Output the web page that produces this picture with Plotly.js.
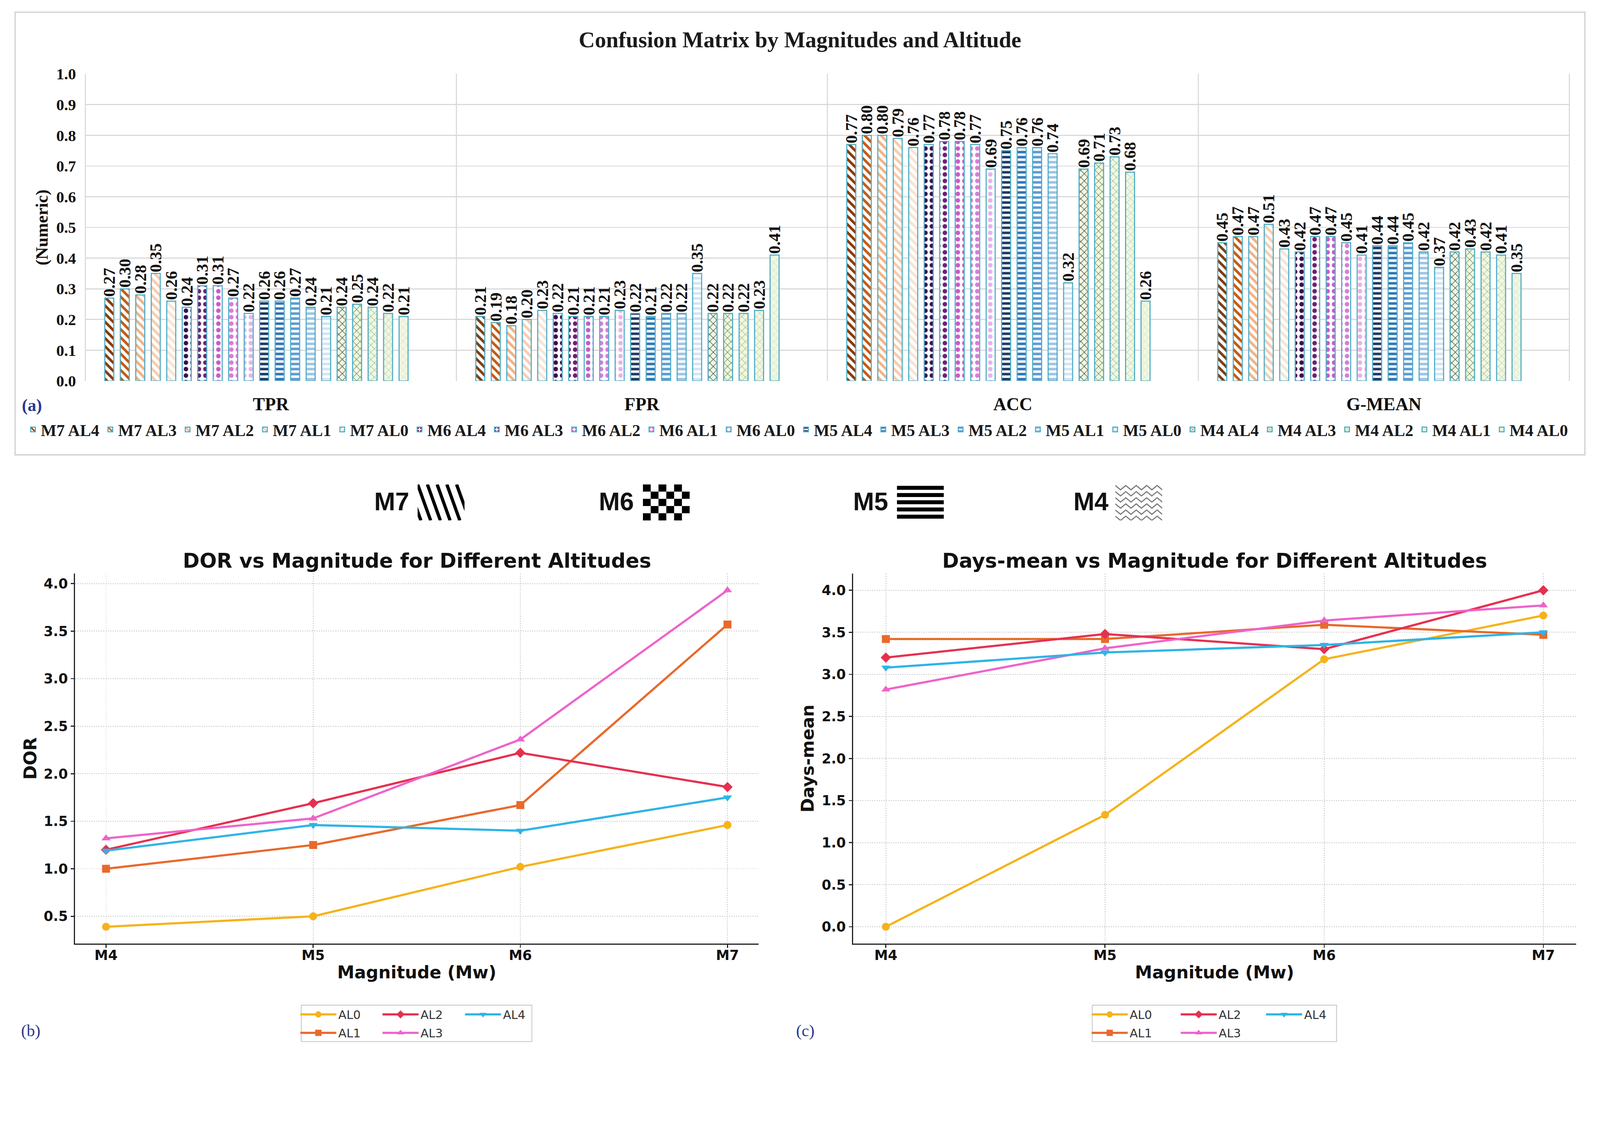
<!DOCTYPE html>
<html><head><meta charset="utf-8">
<script src="https://cdn.plot.ly/plotly-3.0.1.min.js"></script>
<style>html,body{margin:0;padding:0;background:#fff;overflow:hidden}#chart{position:absolute;left:0;top:0}</style>
</head><body><div id="chart"></div>
<script>
// ---------- DATA ----------
const metrics = ['TPR', 'FPR', 'ACC', 'G-MEAN'];
const seriesNames = ['M7 AL4','M7 AL3','M7 AL2','M7 AL1','M7 AL0',
                     'M6 AL4','M6 AL3','M6 AL2','M6 AL1','M6 AL0',
                     'M5 AL4','M5 AL3','M5 AL2','M5 AL1','M5 AL0',
                     'M4 AL4','M4 AL3','M4 AL2','M4 AL1','M4 AL0'];
const tprValues   = [0.27,0.30,0.28,0.35,0.26, 0.24,0.31,0.31,0.27,0.22, 0.26,0.26,0.27,0.24,0.21, 0.24,0.25,0.24,0.22,0.21];
const fprValues   = [0.21,0.19,0.18,0.20,0.23, 0.22,0.21,0.21,0.21,0.23, 0.22,0.21,0.22,0.22,0.35, 0.22,0.22,0.22,0.23,0.41];
const accValues   = [0.77,0.80,0.80,0.79,0.76, 0.77,0.78,0.78,0.77,0.69, 0.75,0.76,0.76,0.74,0.32, 0.69,0.71,0.73,0.68,0.26];
const gmeanValues = [0.45,0.47,0.47,0.51,0.43, 0.42,0.47,0.47,0.45,0.41, 0.44,0.44,0.45,0.42,0.37, 0.42,0.43,0.42,0.41,0.35];

const magnitudes = ['M4', 'M5', 'M6', 'M7'];
const altitudes = ['AL0', 'AL1', 'AL2', 'AL3', 'AL4'];
const dorAL0 = [0.39, 0.50, 1.02, 1.46];
const dorAL1 = [1.00, 1.25, 1.67, 3.57];
const dorAL2 = [1.20, 1.69, 2.22, 1.86];
const dorAL3 = [1.32, 1.53, 2.36, 3.93];
const dorAL4 = [1.19, 1.46, 1.40, 1.75];
const daysAL0 = [0.00, 1.33, 3.18, 3.70];
const daysAL1 = [3.42, 3.42, 3.59, 3.47];
const daysAL2 = [3.20, 3.48, 3.30, 4.00];
const daysAL3 = [2.82, 3.31, 3.64, 3.82];
const daysAL4 = [3.08, 3.26, 3.35, 3.50];

// ---------- SCALE (design in 4440x2928 reference pixels) ----------
const S = Math.min(window.innerWidth / 4440, window.innerHeight / 2928);
const W = Math.round(4440 * S), H = Math.round(2928 * S);
const f = v => v * S;                 // size in reference px -> css px
const fi = v => Math.round(v * S);    // integer version (for integer-only attributes)
const px = v => v / 4440;             // reference x -> paper fraction
const py = v => 1 - v / 2928;         // reference y -> paper fraction

// ---------- STYLES ----------
const SERIF = 'Liberation Serif, Times New Roman, serif';
const SANS = 'DejaVu Sans, sans-serif';
const groupShape = ['\\', '.', '-', 'x'];
const groupSize = [16, 18, 14, 14];
const groupSolidity = [0.45, 0.38, 0.5, 0.18];
const groupBg = ['#ffffff', '#ffffff', '#ffffff', '#F1F7E3'];
const groupColors = [
  ['#843C0C', '#C55A11', '#F4B183', '#F8CBAD', '#FBE2D0'],
  ['#3D0C4E', '#6E1F73', '#C95BC9', '#D77ED6', '#E9B2E9'],
  ['#1F3864', '#2E75B6', '#5B9BD5', '#9DC3E6', '#D3E4F4'],
  ['#3B4B3B', '#6B8E4E', '#A9C08A', '#C6D7AE', '#DCE7CB']
];
const lineColors = ['#F5B31B', '#E8692B', '#E6304F', '#EF63C9', '#2EB4E6'];
const lineSymbols = ['circle', 'square', 'diamond', 'triangle-up', 'triangle-down'];

// ---------- TRACES ----------
const barValues = [tprValues, fprValues, accValues, gmeanValues];
const traces = [];
seriesNames.forEach((name, i) => {
  const g = Math.floor(i / 5), a = i % 5;
  traces.push({
    type: 'bar', name: name, x: metrics, y: barValues.map(arr => arr[i]),
    xaxis: 'x', yaxis: 'y', legend: i < 10 ? 'legend' : 'legend8',
    texttemplate: '%{y:.2f}', textposition: 'outside', textangle: -90,
    constraintext: 'none', cliponaxis: false,
    textfont: {family: SERIF, size: f(46), weight: 'bold', color: '#111'},
    marker: {
      color: groupBg[g], line: {color: '#4BACC6', width: f(3)},
      pattern: {shape: groupShape[g], fgcolor: groupColors[g][a], bgcolor: groupBg[g],
                size: f(groupSize[g]), solidity: groupSolidity[g], fillmode: 'replace'}
    },
    hoverinfo: 'skip'
  });
});

const dorSeries = [dorAL0, dorAL1, dorAL2, dorAL3, dorAL4];
const daysSeries = [daysAL0, daysAL1, daysAL2, daysAL3, daysAL4];
const colLegendB = ['legend2', 'legend2', 'legend3', 'legend3', 'legend4'];
const colLegendC = ['legend5', 'legend5', 'legend6', 'legend6', 'legend7'];
altitudes.forEach((al, k) => {
  traces.push({
    type: 'scatter', mode: 'lines+markers', name: al, x: magnitudes, y: dorSeries[k],
    xaxis: 'x2', yaxis: 'y2', legend: colLegendB[k], legendgroup: 'b' + al,
    line: {color: lineColors[k], width: f(6)},
    marker: {color: lineColors[k], symbol: lineSymbols[k], size: f(22)}
  });
});
altitudes.forEach((al, k) => {
  traces.push({
    type: 'scatter', mode: 'lines+markers', name: al, x: magnitudes, y: daysSeries[k],
    xaxis: 'x3', yaxis: 'y3', legend: colLegendC[k], legendgroup: 'c' + al,
    line: {color: lineColors[k], width: f(6)},
    marker: {color: lineColors[k], symbol: lineSymbols[k], size: f(22)}
  });
});

// ---------- ICONS (pattern key) ----------
function svgUri(s) { return 'data:image/svg+xml;charset=utf-8,' + encodeURIComponent(s); }
const svgHead = '<svg xmlns="http://www.w3.org/2000/svg" width="130" height="100" viewBox="0 0 130 100">';
function iconM7() {
  let s = svgHead;
  for (let k = -3; k < 7; k++) { const x0 = k * 27; s += `<line x1="${x0}" y1="0" x2="${x0 + 36}" y2="100" stroke="#000" stroke-width="9"/>`; }
  return s + '</svg>';
}
function iconM6() {
  let s = svgHead;
  const cw = 130 / 6, ch = 100 / 5;
  for (let r = 0; r < 5; r++) for (let c = 0; c < 6; c++) if ((r + c) % 2 === 0) s += `<rect x="${c * cw}" y="${r * ch}" width="${cw}" height="${ch}" fill="#000"/>`;
  return s + '</svg>';
}
function iconM5() {
  let s = svgHead;
  for (let k = 0; k < 5; k++) s += `<rect x="0" y="${4 + k * 20}" width="130" height="11" fill="#000"/>`;
  return s + '</svg>';
}
function iconM4() {
  let s = svgHead;
  for (let k = 0; k < 6; k++) {
    const y = 3 + k * 17; const pts = [];
    for (let j = 0; j <= 10; j++) pts.push(`${j * 14.5},${j % 2 ? y + 12 : y}`);
    s += `<polyline points="${pts.join(' ')}" fill="none" stroke="#777" stroke-width="3"/>`;
  }
  return s + '</svg>';
}
const iconDefs = [
  {label: 'M7', tx: 1087, ix: 1159, svg: iconM7()},
  {label: 'M6', tx: 1710, ix: 1784, svg: iconM6()},
  {label: 'M5', tx: 2416, ix: 2489, svg: iconM5()},
  {label: 'M4', tx: 3028, ix: 3095, svg: iconM4()}
];

// ---------- LAYOUT ----------
const gridGray = '#D9D9D9';
const lineAxisCommon = {
  showline: true, linecolor: '#222', linewidth: f(3), ticks: 'outside', ticklen: f(9), tickwidth: f(3), tickcolor: '#222',
  showgrid: true, gridcolor: '#C9C9C9', gridwidth: f(2), griddash: 'dot', zeroline: false, automargin: false,
  tickfont: {family: SANS, size: f(38), weight: 'bold', color: '#111'}
};
const axisTitleFont = {family: SANS, size: f(48), weight: 'bold', color: '#111'};

const legendLine = (x) => ({
  x: px(x), xanchor: 'left', y: py(2786), yanchor: 'top', orientation: 'v',
  font: {family: SANS, size: f(33), color: '#333'}, itemwidth: Math.max(30, f(100)), bgcolor: 'rgba(0,0,0,0)',
  borderwidth: 0, tracegroupgap: f(5)
});
const barLegend = (x) => ({
  x: px(x), xanchor: 'left', y: py(1192), yanchor: 'middle', orientation: 'h',
  entrywidth: Math.max(10, f(214.5) - 45), entrywidthmode: 'pixels', traceorder: 'normal', bgcolor: 'rgba(0,0,0,0)',
  font: {family: SERIF, size: f(46), weight: 'bold', color: '#1a1a1a'}
});

const annotations = [
  {text: 'DOR vs Magnitude for Different Altitudes', x: px(1157), y: py(1556), xref: 'paper', yref: 'paper', showarrow: false,
   xanchor: 'center', yanchor: 'middle', font: {family: SANS, size: f(56), weight: 'bold', color: '#111'}},
  {text: 'Days-mean vs Magnitude for Different Altitudes', x: px(3371), y: py(1556), xref: 'paper', yref: 'paper', showarrow: false,
   xanchor: 'center', yanchor: 'middle', font: {family: SANS, size: f(56), weight: 'bold', color: '#111'}},
  {text: '(a)', x: px(58), y: py(1125), xref: 'paper', yref: 'paper', showarrow: false, xanchor: 'left', yanchor: 'middle',
   font: {family: SERIF, size: f(48), weight: 'bold', color: '#2B3A8E'}},
  {text: '(b)', x: px(56), y: py(2860), xref: 'paper', yref: 'paper', showarrow: false, xanchor: 'left', yanchor: 'middle',
   font: {family: SERIF, size: f(46), color: '#2B3A8E'}},
  {text: '(c)', x: px(2207), y: py(2860), xref: 'paper', yref: 'paper', showarrow: false, xanchor: 'left', yanchor: 'middle',
   font: {family: SERIF, size: f(46), color: '#2B3A8E'}}
];
const images = [];
iconDefs.forEach(d => {
  annotations.push({text: d.label, x: px(d.tx), y: py(1392), xref: 'paper', yref: 'paper', showarrow: false,
    xanchor: 'center', yanchor: 'middle', font: {family: 'Liberation Sans, Arial, sans-serif', size: f(70), weight: 'bold', color: '#111'}});
  images.push({source: svgUri(d.svg), xref: 'paper', yref: 'paper', x: px(d.ix), y: py(1344), sizex: px(130), sizey: 100 / 2928,
    xanchor: 'left', yanchor: 'top', sizing: 'stretch', layer: 'above'});
});

// category separators of the bar chart (decoration, in axis-domain fractions)
const shapes = [0, 0.25, 0.5, 0.75, 1].map(d => ({
  type: 'line', xref: 'x domain', yref: 'y domain', x0: d, x1: d, y0: 0, y1: 1,
  line: {color: gridGray, width: f(3)}, layer: 'below'
}));
shapes.push(
  {type: 'rect', xref: 'paper', yref: 'paper', x0: px(42), x1: px(4398), y0: py(1262), y1: py(34),
   line: {color: '#D6D6D6', width: f(4)}, fillcolor: 'rgba(0,0,0,0)', layer: 'below'},
  {type: 'rect', xref: 'paper', yref: 'paper', x0: px(836), x1: px(1476), y0: py(2890), y1: py(2789),
   line: {color: '#CCCCCC', width: f(2.5)}, fillcolor: 'rgba(0,0,0,0)', layer: 'below'},
  {type: 'rect', xref: 'paper', yref: 'paper', x0: px(3031), x1: px(3709), y0: py(2890), y1: py(2789),
   line: {color: '#CCCCCC', width: f(2.5)}, fillcolor: 'rgba(0,0,0,0)', layer: 'below'}
);

const barShift = 0.039; // bar groups sit slightly left of the category centres
const layout = {
  width: W, height: H, margin: {l: 0, r: 0, t: 0, b: 0, pad: 0},
  paper_bgcolor: '#fff', plot_bgcolor: '#fff',
  title: {text: 'Confusion Matrix by Magnitudes and Altitude', x: 0.5, xanchor: 'center', xref: 'paper',
          y: py(110), yanchor: 'middle', yref: 'container',
          font: {family: SERIF, size: f(62), weight: 'bold', color: '#1a1a1a'}},
  barmode: 'group', bargap: 0.165, bargroupgap: 0.42,
  showlegend: true,
  xaxis: {domain: [px(237), px(4355)], anchor: 'y', type: 'category', range: [-0.5 + barShift, 3.5 + barShift],
          showgrid: false, ticks: '', showline: false, zeroline: false, automargin: false,
          ticklabelstandoff: fi(30), ticklabelshift: fi(barShift * 1029.5),
          tickfont: {family: SERIF, size: f(50), weight: 'bold', color: '#111'}},
  yaxis: {domain: [py(1057), py(205)], anchor: 'x', range: [0, 1.0], tick0: 0, dtick: 0.1, tickformat: '.1f',
          showgrid: true, gridcolor: gridGray, gridwidth: f(3), zeroline: false, showline: false, ticks: '',
          ticklabelstandoff: fi(25), automargin: false,
          tickfont: {family: SERIF, size: f(44), weight: 'bold', color: '#111'},
          title: {text: '(Numeric)', standoff: f(8), font: {family: SERIF, size: f(48), weight: 'bold', color: '#111'}}},
  xaxis2: Object.assign({}, lineAxisCommon, {domain: [px(208), px(2105)], anchor: 'y2', type: 'category', range: [-0.15, 3.15],
          ticklabelstandoff: fi(-12), title: {text: 'Magnitude (Mw)', standoff: f(10), font: axisTitleFont}}),
  yaxis2: Object.assign({}, lineAxisCommon, {domain: [py(2618), py(1591)], anchor: 'x2', range: [0.213, 4.107], tick0: 0, dtick: 0.5,
          tickformat: '.1f', title: {text: 'DOR', standoff: f(5), font: axisTitleFont}}),
  xaxis3: Object.assign({}, lineAxisCommon, {domain: [px(2367), px(4374)], anchor: 'y3', type: 'category', range: [-0.15, 3.15],
          ticklabelstandoff: fi(-12), title: {text: 'Magnitude (Mw)', standoff: f(10), font: axisTitleFont}}),
  yaxis3: Object.assign({}, lineAxisCommon, {domain: [py(2618), py(1591)], anchor: 'x3', range: [-0.2, 4.2], tick0: 0, dtick: 0.5,
          tickformat: '.1f', title: {text: 'Days-mean', standoff: f(7), font: axisTitleFont}}),
  legend: barLegend(70),
  legend8: barLegend(2215),
  legend2: legendLine(828), legend3: legendLine(1056), legend4: legendLine(1285),
  legend5: legendLine(3024), legend6: legendLine(3271), legend7: legendLine(3508),
  shapes: shapes,
  annotations: annotations,
  images: images
};

const el = document.getElementById('chart');
el.style.width = W + 'px'; el.style.height = H + 'px';
Plotly.newPlot(el, traces, layout, {staticPlot: true, displayModeBar: false});
</script>
</body></html>
